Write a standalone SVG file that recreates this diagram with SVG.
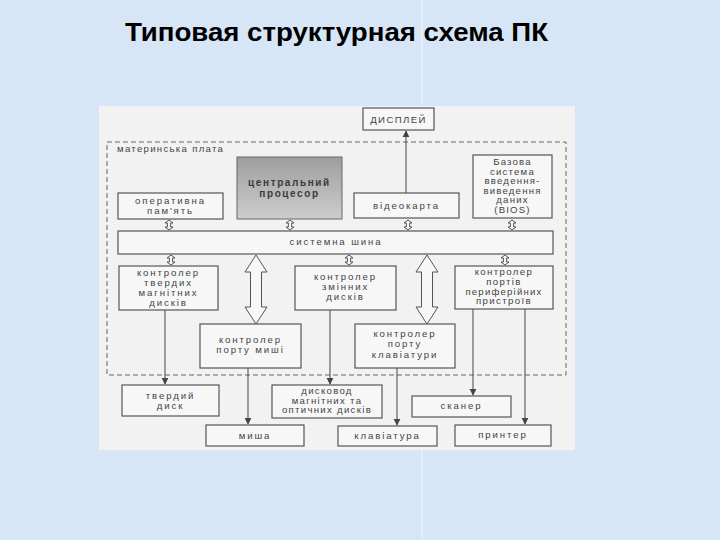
<svg xmlns="http://www.w3.org/2000/svg" width="720" height="540" viewBox="0 0 720 540">
<style>
.box{fill:#f7f7f7;stroke:#555;stroke-width:1.2}
.t{font-family:"Liberation Sans",Arial,sans-serif;font-size:9.6px;fill:#444;text-anchor:middle;letter-spacing:1.9px}
.tb{font-family:"Liberation Sans",Arial,sans-serif;font-size:10px;font-weight:bold;fill:#3a3a3a;text-anchor:middle;letter-spacing:1.6px}
.ln{stroke:#555;stroke-width:1.1;fill:none}
.ha{fill:#f7f7f7;stroke:#555;stroke-width:1}
</style>
<defs>
<marker id="ah" viewBox="0 0 10 10" refX="9" refY="5" markerWidth="7" markerHeight="8" orient="auto" markerUnits="userSpaceOnUse">
<path d="M0,0 L10,5 L0,10 Z" fill="#444"/>
</marker>
<linearGradient id="cpu" x1="0" y1="0" x2="0" y2="1">
<stop offset="0" stop-color="#9e9e9e"/>
<stop offset="1" stop-color="#cdcdcd"/>
</linearGradient>
<path id="sa" d="M0,0 L4,3 L1.6,3 L1.6,7 L4,7 L0,10 L-4,7 L-1.6,7 L-1.6,3 L-4,3 Z"/>
<path id="ba" d="M0,0 L11,17 L5.5,17 L5.5,52 L11,52 L0,69 L-11,52 L-5.5,52 L-5.5,17 L-11,17 Z"/>
</defs>
<rect x="0" y="0" width="720" height="540" fill="#d7e6f6"/>
<line x1="422" y1="0" x2="422" y2="540" stroke="#eef5fc" stroke-width="1"/>
<text x="125" y="41" textLength="423" lengthAdjust="spacingAndGlyphs" style="font-family:'Liberation Sans',Arial,sans-serif;font-size:26px;font-weight:bold;fill:#000">Типовая структурная схема ПК</text>
<rect x="99" y="106" width="476" height="344" fill="#f2f2f2"/>
<rect x="107" y="142" width="459" height="233" fill="none" stroke="#666" stroke-width="1" stroke-dasharray="5,3"/>
<text x="117" y="152" class="t" style="text-anchor:start;letter-spacing:1.3px">материнська плата</text>

<g id="connectors">
<line class="ln" x1="406" y1="193" x2="406" y2="131" marker-end="url(#ah)"/>
<line class="ln" x1="165" y1="310" x2="165" y2="384" marker-end="url(#ah)"/>
<line class="ln" x1="248" y1="368" x2="248" y2="424" marker-end="url(#ah)"/>
<line class="ln" x1="330" y1="310" x2="330" y2="384" marker-end="url(#ah)"/>
<line class="ln" x1="397" y1="368" x2="397" y2="425" marker-end="url(#ah)"/>
<line class="ln" x1="473" y1="309" x2="473" y2="395" marker-end="url(#ah)"/>
<line class="ln" x1="525" y1="309" x2="525" y2="424" marker-end="url(#ah)"/>
<use href="#sa" x="169" y="220" class="ha"/>
<use href="#sa" x="290" y="220" class="ha"/>
<use href="#sa" x="408" y="220" class="ha"/>
<use href="#sa" x="512" y="220" class="ha"/>
<use href="#sa" x="171" y="255" class="ha"/>
<use href="#sa" x="349" y="255" class="ha"/>
<use href="#sa" x="505" y="255" class="ha"/>
<use href="#ba" x="256" y="255" class="ha"/>
<use href="#ba" x="427" y="255" class="ha"/>
</g>

<g id="display"><rect class="box" x="363" y="108" width="71" height="22"/><text class="t" x="398.5" y="123" style="letter-spacing:1.4px">ДИСПЛЕЙ</text></g>
<g id="ram"><rect class="box" x="118" y="193" width="105" height="26"/><text class="t" x="170.5" y="204">оперативна</text><text class="t" x="170.5" y="214">пам'ять</text></g>
<g id="cpu"><rect x="237" y="157" width="105" height="62" fill="url(#cpu)" stroke="#666" stroke-width="1"/><text class="tb" x="289.5" y="185.5">центральний</text><text class="tb" x="289.5" y="196.5">процесор</text></g>
<g id="videocard"><rect class="box" x="354" y="193" width="105" height="25"/><text class="t" x="406.5" y="209">відеокарта</text></g>
<g id="bios"><rect class="box" x="473" y="155" width="79" height="63"/>
<text class="t" x="512.5" y="165" style="letter-spacing:1.2px">Базова</text><text class="t" x="512.5" y="174.5" style="letter-spacing:1.2px">система</text><text class="t" x="512.5" y="184" style="letter-spacing:1.2px">введення-</text><text class="t" x="512.5" y="193.5" style="letter-spacing:1.2px">виведення</text><text class="t" x="512.5" y="203" style="letter-spacing:1.2px">даних</text><text class="t" x="512.5" y="213" style="letter-spacing:1.2px">(BIOS)</text></g>
<g id="bus"><rect class="box" x="118" y="231" width="435" height="23"/><text class="t" x="336" y="245">системна шина</text></g>
<g id="hdc"><rect class="box" x="119" y="266" width="99" height="44"/><text class="t" x="168.5" y="276">контролер</text><text class="t" x="168.5" y="286">твердих</text><text class="t" x="168.5" y="296">магнітних</text><text class="t" x="168.5" y="306">дисків</text></g>
<g id="rdc"><rect class="box" x="295" y="266" width="101" height="44"/><text class="t" x="345.5" y="280">контролер</text><text class="t" x="345.5" y="290">змінних</text><text class="t" x="345.5" y="300">дисків</text></g>
<g id="pc"><rect class="box" x="455" y="266" width="98" height="43"/><text class="t" x="504" y="275" style="letter-spacing:1.4px">контролер</text><text class="t" x="504" y="285" style="letter-spacing:1.4px">портів</text><text class="t" x="504" y="294.5" style="letter-spacing:1.2px">периферійних</text><text class="t" x="504" y="304" style="letter-spacing:1.4px">пристроїв</text></g>
<g id="mc"><rect class="box" x="200" y="324" width="101" height="44"/><text class="t" x="250.5" y="343">контролер</text><text class="t" x="250.5" y="353">порту миші</text></g>
<g id="kc"><rect class="box" x="355" y="324" width="100" height="44"/><text class="t" x="405" y="337">контролер</text><text class="t" x="405" y="347">порту</text><text class="t" x="405" y="357.5">клавіатури</text></g>
<g id="hdd"><rect class="box" x="122" y="385" width="97" height="31"/><text class="t" x="170.5" y="399">твердий</text><text class="t" x="170.5" y="409">диск</text></g>
<g id="drive"><rect class="box" x="272" y="385" width="110" height="33"/><text class="t" x="327" y="394" style="letter-spacing:1.3px">дисковод</text><text class="t" x="327" y="403.5" style="letter-spacing:1.3px">магнітних та</text><text class="t" x="327" y="413" style="letter-spacing:1.3px">оптичних дисків</text></g>
<g id="scanner"><rect class="box" x="412" y="396" width="99" height="21"/><text class="t" x="461.5" y="409">сканер</text></g>
<g id="mouse"><rect class="box" x="206" y="425" width="98" height="21"/><text class="t" x="255" y="439">миша</text></g>
<g id="keyboard"><rect class="box" x="338" y="426" width="99" height="20"/><text class="t" x="387.5" y="439">клавіатура</text></g>
<g id="printer"><rect class="box" x="455" y="425" width="96" height="21"/><text class="t" x="503" y="438">принтер</text></g>
</svg>
